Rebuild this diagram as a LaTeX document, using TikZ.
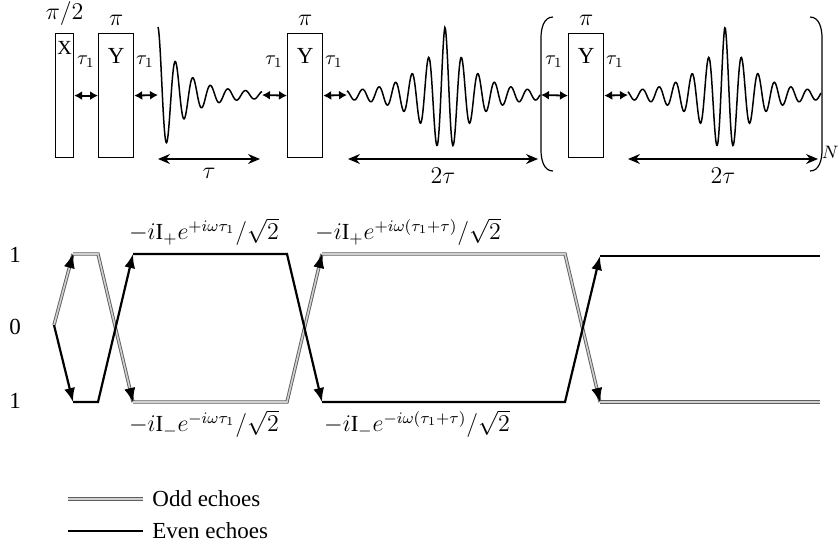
\documentclass[tikz,border=0pt]{standalone}
\usepackage{fontspec}
\setmainfont{Liberation Serif}
\usepackage{tikz}
\usetikzlibrary{arrows.meta,calc}
\definecolor{oddline}{HTML}{5E5E5E}
\definecolor{oddcore}{HTML}{D0D0D0}
\tikzset{
  pulse/.style={draw,line width=0.6pt,inner sep=0pt,minimum height=62pt,anchor=north west},
  gap/.style={{Latex[length=4pt,width=4.5pt]}-{Latex[length=4pt,width=4.5pt]},line width=0.9pt},
  span/.style={{Stealth[length=6pt,width=5pt,inset=2pt]}-{Stealth[length=6pt,width=5pt,inset=2pt]},line width=0.6pt},
  wave/.style={line width=0.75pt},
  odd/.style={draw=oddline,double=oddcore,line width=0.45pt,double distance=0.8pt},
  even/.style={draw=black,line width=1.1pt},
  head/.style={-{Latex[length=7pt,width=5.5pt]},black,line width=0.4pt},
  delay/.style={font=\fontsize{10}{12}\selectfont,inner sep=0pt},
  lvl/.style={inner sep=1pt}
}

\begin{document}
\begin{tikzpicture}[x=0.5pt,y=-0.5pt,font=\fontsize{11.5}{13}\selectfont]
  \useasboundingbox (0,0) rectangle (839,543);

  % pulse train
  \node[pulse,minimum width=9pt,label={above:$\pi/2$},label={[anchor=north,yshift=-4pt,inner sep=0pt,font=\fontsize{10}{12}\selectfont]north:X}] (px) at (55,33) {};
  \node[pulse,minimum width=17.5pt,label={above:$\pi$},label={[anchor=north,yshift=-4pt]north:Y}] (py1) at (98,33) {};
  \node[pulse,minimum width=17.5pt,label={above:$\pi$},label={[anchor=north,yshift=-4pt]north:Y}] (py2) at (287,33) {};
  \node[pulse,minimum width=17.5pt,label={above:$\pi$},label={[anchor=north,yshift=-4pt]north:Y}] (py3) at (568,33) {};

  \coordinate (fid0) at (158,95);
  \coordinate (fid1) at (262,95);
  \coordinate (ec1a) at (347,95);
  \coordinate (ec1b) at (540,95);
  \coordinate (brk) at (541,95);
  \coordinate (ec2a) at (628,95);
  \coordinate (ec2b) at (821,95);

  \node[delay] (t1) at (86,62) {$\tau_1$};
  \node[delay] (t2) at (145,62) {$\tau_1$};
  \node[delay] (t3) at (274,62) {$\tau_1$};
  \node[delay] (t4) at (334,62) {$\tau_1$};
  \node[delay] (t5) at (554,62) {$\tau_1$};
  \node[delay] (t6) at (615,62) {$\tau_1$};

  \draw[gap] (px.east) -- (py1.west);
  \draw[gap] (py1.east) -- (fid0);
  \draw[gap] (fid1) -- (py2.west);
  \draw[gap] (py2.east) -- (ec1a);
  \draw[gap] (brk) -- (py3.west);
  \draw[gap] (py3.east) -- (ec2a);

  % FID and echoes
  \draw[wave] plot[domain=158:262,samples=220,smooth] (\x,{95-(65*exp(-(\x-158)/23)+3)*cos((\x-158)/17.5*360)});
  \draw[wave] plot[domain=347:540,samples=360,smooth] (\x,{95-(65*exp(-abs(\x-445)/26)+3)*cos((\x-445)/16.5*360)});
  \draw[wave] plot[domain=628:821,samples=360,smooth] (\x,{95-(65*exp(-abs(\x-725)/26)+3)*cos((\x-725)/16.5*360)});

  \draw[span] (fid0 |- 0,159) -- (260,159) node[midway,below=1pt] (tau) {$\tau$};
  \draw[span] (348,159) -- (538,159) node[midway,below=1pt] (tau2a) {$2\tau$};
  \draw[span] (628,159) -- (818,159) node[midway,below=1pt] (tau2b) {$2\tau$};

  % repeat bracket
  \draw[line width=0.6pt] (553,17) to[out=180,in=90] (541,38) -- (541,150) to[out=-90,in=180] (553,171);
  \draw[line width=0.6pt] (810,17) to[out=0,in=90] (822,38) -- (822,150) to[out=-90,in=0] (810,171);
  \node[anchor=east,inner sep=0pt,font=\fontsize{9}{11}\selectfont] (nrep) at (839,152) {$N$};

  % coherence pathways
  \node[lvl] (l1) at (15,255) {1};
  \node[lvl] (l0) at (15,327) {0};
  \node[lvl] (lm) at (15,401) {1};

  \coordinate (s) at (54,325);
  \coordinate (a1) at (73,254);  \coordinate (b1) at (73,402);
  \coordinate (a2) at (98,254);  \coordinate (b2) at (98,402);
  \coordinate (a3) at (133,254); \coordinate (b3) at (133,402);
  \coordinate (a4) at (287,254); \coordinate (b4) at (287,402);
  \coordinate (a5) at (322,254); \coordinate (b5) at (322,402);
  \coordinate (a6) at (565,254); \coordinate (b6) at (565,402);
  \coordinate (a7) at (600,256); \coordinate (b7) at (600,402);
  \coordinate (a8) at (820,256); \coordinate (b8) at (820,402);

  % odd echoes
  \draw[odd] (s) -- (a1);
  \draw[odd] (a1) -- (a2) -- (b3);
  \draw[odd] (b3) -- (b4) -- (a5);
  \draw[odd] (a5) -- (a6) -- (b7);
  \draw[odd] (b7) -- (b8);
  \draw[head] ($(a1)!7pt!(s)$) -- (a1);
  \draw[head] ($(b3)!7pt!(a2)$) -- (b3);
  \draw[head] ($(a5)!7pt!(b4)$) -- (a5);
  \draw[head] ($(b7)!7pt!(a6)$) -- (b7);

  % even echoes
  \draw[even,-{Latex[length=7pt,width=5.5pt]}] (s) -- (b1);
  \draw[even,-{Latex[length=7pt,width=5.5pt]}] (b1) -- (b2) -- (a3);
  \draw[even,-{Latex[length=7pt,width=5.5pt]}] (a3) -- (a4) -- (b5);
  \draw[even,-{Latex[length=7pt,width=5.5pt]}] (b5) -- (b6) -- (a7);
  \draw[even] (a7) -- (a8);

  \node (up1) at (204,232) {$-i\mathrm{I}_{+}e^{+i\omega\tau_1}\big/\sqrt{2}$};
  \node (up2) at (408,232) {$-i\mathrm{I}_{+}e^{+i\omega(\tau_1+\tau)}\big/\sqrt{2}$};
  \node (lo1) at (204,424) {$-i\mathrm{I}_{-}e^{-i\omega\tau_1}\big/\sqrt{2}$};
  \node (lo2) at (417,424) {$-i\mathrm{I}_{-}e^{-i\omega(\tau_1+\tau)}\big/\sqrt{2}$};

  % legend
  \coordinate (k1a) at (68,499); \coordinate (k1b) at (143,499);
  \coordinate (k2a) at (68,531); \coordinate (k2b) at (143,531);
  \draw[odd] (k1a) -- (k1b);
  \draw[even] (k2a) -- (k2b);
  \node[anchor=west,inner sep=1pt] (kodd) at (150,499) {Odd echoes};
  \node[anchor=west,inner sep=1pt] (keven) at (150,531) {Even echoes};
\end{tikzpicture}
\end{document}
